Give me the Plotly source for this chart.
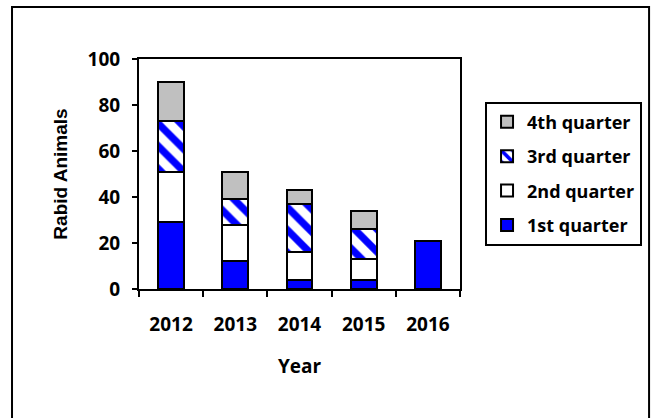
import plotly.graph_objects as go

years = ["2012", "2013", "2014", "2015", "2016"]
q1 = [29, 12, 4, 4, 21]
q2 = [22, 16, 12, 9, 0]
q3 = [22, 11, 21, 13, 0]
q4 = [17, 12, 6, 8, 0]
series_names = ["1st quarter", "2nd quarter", "3rd quarter", "4th quarter"]
y_ticks = [0, 20, 40, 60, 80, 100]

FONT = dict(family="Open Sans", size=19, color="black", weight=700)
LFONT = dict(family="Open Sans", size=18, color="black", weight=700)
line = dict(color="black", width=2)

fig = go.Figure()
fig.add_bar(x=years, y=q1, name=series_names[0], legendgroup="a", legendrank=4,
            marker=dict(color="#0000FF", line=line))
fig.add_bar(x=years, y=q2, name=series_names[1], legendgroup="b", legendrank=3,
            marker=dict(color="white", line=line))
fig.add_bar(x=years, y=q3, name=series_names[2], legendgroup="c", legendrank=2,
            marker=dict(color="white", line=line,
                        pattern=dict(shape="\\", fgcolor="#0000FF", bgcolor="white",
                                     fgopacity=1, size=16, solidity=0.45,
                                     fillmode="overlay")))
fig.add_bar(x=years, y=q4, name=series_names[3], legendgroup="d", legendrank=1,
            marker=dict(color="#C0C0C0", line=line))

fig.update_layout(
    barmode="stack",
    bargap=0.6,
    width=653, height=418,
    margin=dict(l=139, r=193, t=59, b=129, autoexpand=False),
    paper_bgcolor="white", plot_bgcolor="white",
    font=FONT,
    showlegend=True,
    legend=dict(
        x=1.078, y=0.815, xanchor="left", yanchor="top",
        bordercolor="black", borderwidth=2, bgcolor="white",
        traceorder="grouped", tracegroupgap=8,
        font=LFONT, itemwidth=30,
    ),
    xaxis=dict(
        type="category", tickson="boundaries", ticks="outside", ticklen=6,
        tickwidth=2, tickcolor="black", showline=True, linecolor="black",
        linewidth=2, mirror=True, showgrid=False, ticklabelstandoff=17,
        tickfont=FONT,
        title=dict(text="Year", font=FONT, standoff=24),
    ),
    yaxis=dict(
        range=[0, 100], tickvals=y_ticks, ticks="outside", ticklen=5,
        tickwidth=2, tickcolor="black", showline=True, linecolor="black",
        linewidth=2, mirror=True, showgrid=False, zeroline=False,
        ticklabelstandoff=8, tickfont=FONT,
        title=dict(text="Rabid Animals",
                   font=dict(family="Liberation Sans", size=19, color="black", weight=700),
                   standoff=15),
    ),
    shapes=[dict(type="rect", xref="paper", yref="paper",
                 x0=-0.3956, x1=1.589, y0=-0.75, y1=1.226,
                 line=dict(color="black", width=2), layer="below")],
)

fig.write_html("out.html", config={"displayModeBar": False},
               post_script="document.body.style.margin='0';")
